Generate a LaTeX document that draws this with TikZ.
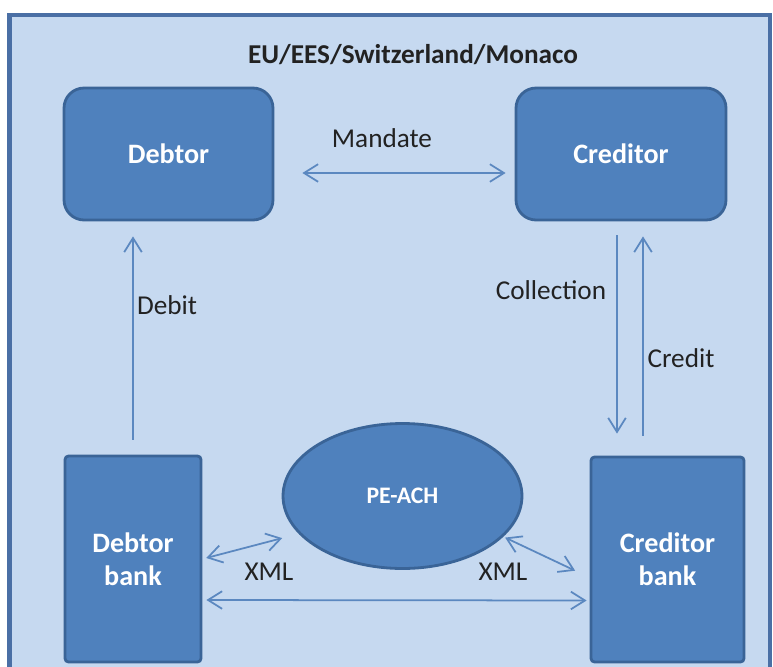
\documentclass[tikz,border=0pt]{standalone}
\usepackage{fontspec}
\setmainfont{Carlito}
\usepackage{xcolor}
\usetikzlibrary{arrows.meta,shapes.geometric,calc}
\definecolor{zone}{HTML}{C6D9F0}
\definecolor{zoneline}{HTML}{4A6FA5}
\definecolor{boxfill}{HTML}{4F81BD}
\definecolor{boxline}{HTML}{3A6497}
\definecolor{arrowc}{HTML}{5B88C0}
\definecolor{txt}{HTML}{222222}

\begin{document}
\begin{tikzpicture}[x=0.02cm,y=-0.02cm,
  >={Straight Barb[length=8pt,width=10pt]},
  party/.style={draw=boxline,line width=1.6pt,fill=boxfill,rounded corners=0.4cm,
    text=white,font=\fontsize{16}{19}\selectfont\bfseries,align=center},
  bank/.style={party,rounded corners=2pt},
  link/.style={draw=arrowc,line width=1pt},
  lab/.style={text=txt,font=\fontsize{15.5}{18}\selectfont}]
\useasboundingbox (0,0) rectangle (773,666);
% zone
\draw[zoneline,line width=2.3pt,fill=zone] (9.5,15) rectangle (770,720);
\node[text=txt,font=\fontsize{15.5}{18}\selectfont\bfseries] (zonetitle) at (413,55) {EU/EES/Switzerland/Monaco};
% parties
\node[party,minimum width=4.18cm,minimum height=2.64cm] (debtor) at (168.5,154) {Debtor};
\node[party,minimum width=4.2cm,minimum height=2.64cm] (creditor) at (621,154) {Creditor};
\node[bank,minimum width=2.72cm,minimum height=4.12cm] (dbank) at (133,559) {Debtor\\bank};
\node[bank,minimum width=3.06cm,minimum height=4.1cm] (cbank) at (667.5,559.5) {Creditor\\bank};
\node[ellipse,draw=boxline,line width=1.6pt,fill=boxfill,text=white,
  minimum width=4.78cm,minimum height=2.9cm,font=\fontsize{13.5}{16}\selectfont\bfseries] (ach) at (402.5,496) {PE-ACH};
% mandate
\draw[link,<->,shorten <=0.56cm,shorten >=0.18cm] ([yshift=-0.38cm]debtor.east) -- ([yshift=-0.38cm]creditor.west);
\node[lab] (mandate) at (382,138) {Mandate};
% debit / collection / credit
\draw[link,->,shorten <=0.3cm,shorten >=0.3cm] (dbank.north) -- (dbank.north |- debtor.south);
\node[lab] (debit) at (167,305) {Debit};
\draw[link,->,shorten <=0.28cm,shorten >=0.44cm] ([xshift=-0.08cm]creditor.south) -- ([xshift=-0.08cm]creditor.south |- cbank.north);
\node[lab] (collection) at (551,290) {Collection};
\draw[link,->,shorten <=0.4cm,shorten >=0.3cm] ([xshift=0.44cm]creditor.south |- cbank.north) -- ([xshift=0.44cm]creditor.south);
\node[lab] (credit) at (681,358) {Credit};
% XML exchange
\draw[link,<->,shorten <=0.08cm,shorten >=0.34cm] (dbank.east) -- (ach.200);
\node[lab] (xmlleft) at (269,572) {XML};
\draw[link,<->,shorten <=0.04cm,shorten >=0.32cm] (ach.-22) -- ([yshift=-0.36cm]cbank.west);
\node[lab] (xmlright) at (503,572) {XML};
\draw[link,<->,shorten <=0.08cm,shorten >=0.06cm] ([yshift=-0.82cm]dbank.east) -- ([yshift=-0.82cm]cbank.west);
\end{tikzpicture}
\end{document}
